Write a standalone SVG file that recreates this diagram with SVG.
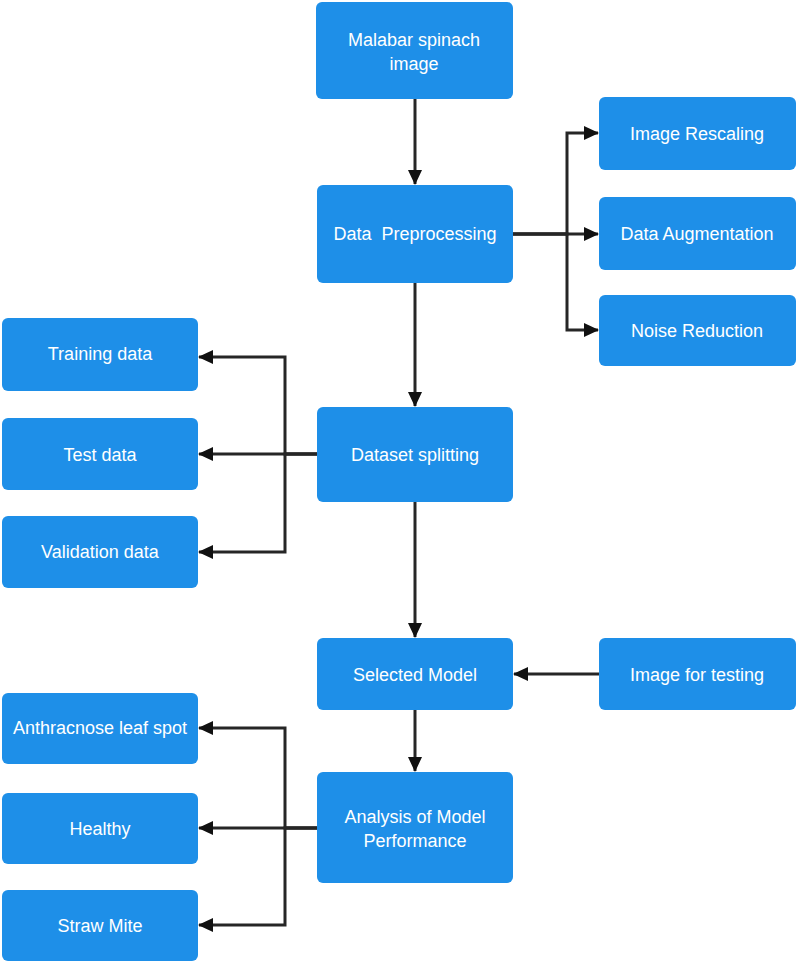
<svg xmlns="http://www.w3.org/2000/svg" width="797" height="963" viewBox="0 0 797 963">
<style>
.box{fill:#1e8fe8;}
.t{font-family:"Liberation Sans",Arial,sans-serif;font-size:18px;fill:#fff;text-anchor:middle;white-space:pre;}
.c{fill:none;stroke:#262626;stroke-width:3;}
</style>
<defs>
<marker id="ah" markerUnits="userSpaceOnUse" markerWidth="16" markerHeight="16" refX="14" refY="7" orient="auto">
<path d="M0,0 L15,7 L0,14 z" fill="#111"/>
</marker>
</defs>
<rect width="797" height="963" fill="#fff"/>
<g id="connectors">
<path class="c" d="M415,99 V184" marker-end="url(#ah)"/>
<path class="c" d="M513,234 H567 V133 H598" marker-end="url(#ah)"/>
<path class="c" d="M513,234 H598" marker-end="url(#ah)"/>
<path class="c" d="M513,234 H567 V330 H598" marker-end="url(#ah)"/>
<path class="c" d="M415,283 V406" marker-end="url(#ah)"/>
<path class="c" d="M317,454 H285 V357 H199" marker-end="url(#ah)"/>
<path class="c" d="M317,454 H199" marker-end="url(#ah)"/>
<path class="c" d="M317,454 H285 V552 H199" marker-end="url(#ah)"/>
<path class="c" d="M415,502 V637" marker-end="url(#ah)"/>
<path class="c" d="M599,674 H514" marker-end="url(#ah)"/>
<path class="c" d="M415,710 V771" marker-end="url(#ah)"/>
<path class="c" d="M317,828 H285 V728 H199" marker-end="url(#ah)"/>
<path class="c" d="M317,828 H199" marker-end="url(#ah)"/>
<path class="c" d="M317,828 H285 V925 H199" marker-end="url(#ah)"/>
</g>
<g id="malabar"><rect class="box" x="316" y="2" width="197" height="97" rx="6"/><text class="t" x="414" y="46">Malabar spinach</text><text class="t" x="414" y="70">image</text></g>
<g id="preprocessing"><rect class="box" x="317" y="185" width="196" height="98" rx="6"/><text class="t" x="415" y="240">Data  Preprocessing</text></g>
<g id="rescaling"><rect class="box" x="599" y="97" width="197" height="73" rx="6"/><text class="t" x="697" y="140">Image Rescaling</text></g>
<g id="augmentation"><rect class="box" x="599" y="197" width="197" height="73" rx="6"/><text class="t" x="697" y="240">Data Augmentation</text></g>
<g id="noise"><rect class="box" x="599" y="295" width="197" height="71" rx="6"/><text class="t" x="697" y="337">Noise Reduction</text></g>
<g id="splitting"><rect class="box" x="317" y="407" width="196" height="95" rx="6"/><text class="t" x="415" y="461">Dataset splitting</text></g>
<g id="training"><rect class="box" x="2" y="318" width="196" height="73" rx="6"/><text class="t" x="100" y="360">Training data</text></g>
<g id="test"><rect class="box" x="2" y="418" width="196" height="72" rx="6"/><text class="t" x="100" y="461">Test data</text></g>
<g id="validation"><rect class="box" x="2" y="516" width="196" height="72" rx="6"/><text class="t" x="100" y="558">Validation data</text></g>
<g id="selected"><rect class="box" x="317" y="638" width="196" height="72" rx="6"/><text class="t" x="415" y="681">Selected Model</text></g>
<g id="testing"><rect class="box" x="599" y="638" width="197" height="72" rx="6"/><text class="t" x="697" y="681">Image for testing</text></g>
<g id="analysis"><rect class="box" x="317" y="772" width="196" height="111" rx="6"/><text class="t" x="415" y="823">Analysis of Model</text><text class="t" x="415" y="847">Performance</text></g>
<g id="anthracnose"><rect class="box" x="2" y="693" width="196" height="71" rx="6"/><text class="t" x="100" y="734">Anthracnose leaf spot</text></g>
<g id="healthy"><rect class="box" x="2" y="793" width="196" height="71" rx="6"/><text class="t" x="100" y="835">Healthy</text></g>
<g id="straw"><rect class="box" x="2" y="890" width="196" height="71" rx="6"/><text class="t" x="100" y="932">Straw Mite</text></g>
</svg>
